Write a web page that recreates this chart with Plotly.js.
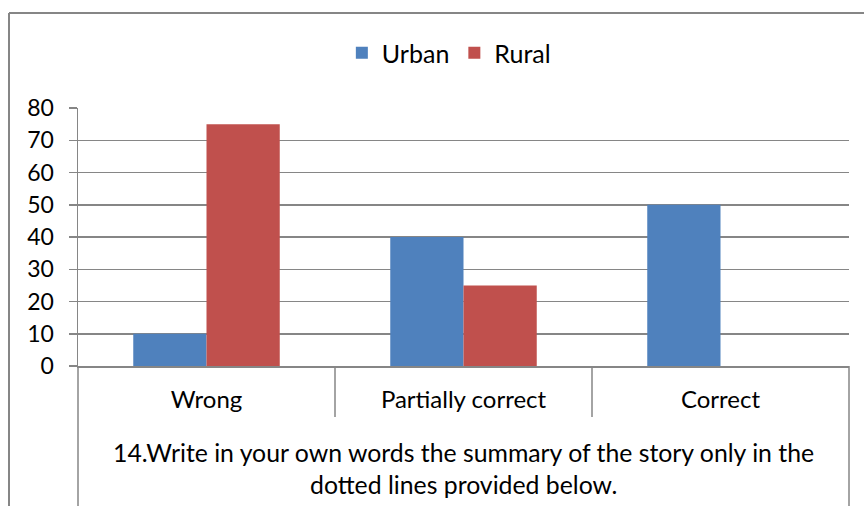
<!DOCTYPE html>
<html><head><meta charset="utf-8">
<script src="https://cdn.plot.ly/plotly-3.0.1.min.js"></script>
<style>body{margin:0;background:#fff}#c{width:864px;height:506px}</style>
</head><body><div id="c"></div>
<script>
const categories = ["Wrong", "Partially correct", "Correct"];
const urban = [10, 40, 50];
const rural = [75, 25, 0];
const seriesNames = ["Urban", "Rural"];
const yTicks = [0, 10, 20, 30, 40, 50, 60, 70, 80];
const titleLines = ["14.Write in your own words the summary of the story only in the", "dotted lines provided below."];

const FONT = "Lato, 'Open Sans', sans-serif";
const grey = "#868686";
const plotBottom = 140, plotH = 506 - 108 - 140;
const py = px => -px / plotH; // pixels below axis -> paper

const traces = [
  {type: "bar", name: seriesNames[0], x: categories, y: urban, marker: {color: "#4F81BD", line: {width: 0}}},
  {type: "bar", name: seriesNames[1], x: categories, y: rural, marker: {color: "#C0504D", line: {width: 0}}}
];

const shapes = [];
[0.5, 1.5].forEach(b => shapes.push({type: "line", xref: "x", yref: "paper", x0: b, x1: b, y0: 0, y1: py(51), line: {color: grey, width: 1.5}}));
shapes.push({type: "line", xref: "paper", yref: "paper", x0: 0, x1: 0, y0: 0, y1: py(140), line: {color: grey, width: 1.5}});
shapes.push({type: "line", xref: "paper", yref: "paper", x0: 1, x1: 1, y0: 0, y1: py(140), line: {color: grey, width: 1.5}});
shapes.push({type: "line", xref: "paper", yref: "paper", x0: -69/771, x1: -69/771, y0: 353/plotH, y1: py(140), line: {color: grey, width: 2}});
shapes.push({type: "line", xref: "paper", yref: "paper", x0: -69/771, x1: 1.1, y0: 353/plotH, y1: 353/plotH, line: {color: grey, width: 2}});

const annotations = titleLines.map((t, i) => ({
  text: t, xref: "paper", yref: "paper", x: 0.5, y: py(86 + i * 32), xanchor: "center", yanchor: "middle",
  showarrow: false, font: {family: FONT, size: 24.8, color: "#000"}
}));

const layout = {
  width: 864, height: 506,
  margin: {l: 78, r: 15, t: 108, b: plotBottom, autoexpand: false},
  paper_bgcolor: "#fff", plot_bgcolor: "#fff",
  font: {family: FONT, size: 24, color: "#000"},
  barmode: "group", bargap: 0.43, bargroupgap: 0,
  showlegend: true,
  legend: {orientation: "h", x: 0.481, xanchor: "center", yref: "container", y: 1 - 53/506, yanchor: "middle",
           bgcolor: "rgba(0,0,0,0)", font: {family: FONT, size: 25}, traceorder: "normal"},
  xaxis: {type: "category", showgrid: false, ticks: "", showline: true, linecolor: grey, linewidth: 1.5,
          ticklabelstandoff: 12, tickfont: {family: FONT, size: 24}, fixedrange: true},
  yaxis: {range: [0, 80], tickvals: yTicks, showgrid: true, gridcolor: grey, gridwidth: 1.5, zeroline: false,
          showline: true, linecolor: grey, linewidth: 1.5, ticks: "outside", ticklen: 8, tickcolor: grey, tickwidth: 1.5,
          ticklabelstandoff: 10, tickfont: {family: FONT, size: 23}, fixedrange: true},
  shapes: shapes, annotations: annotations
};
Plotly.newPlot("c", traces, layout, {displayModeBar: false, staticPlot: true});
</script></body></html>
